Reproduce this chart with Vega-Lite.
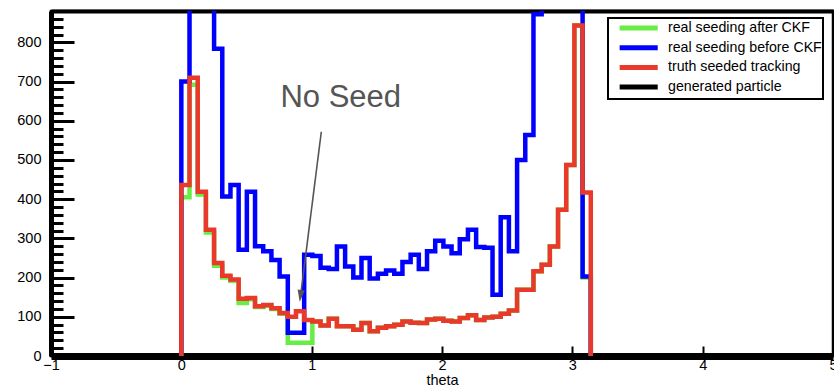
{
  "$schema": "https://vega.github.io/schema/vega-lite/v6.json",
  "width": 782,
  "height": 345,
  "autosize": {"type": "none"},
  "padding": {"left": 51, "top": 11, "right": 1, "bottom": 35},
  "background": "white",
  "config": {
    "font": "Liberation Sans",
    "view": {"stroke": "black", "strokeWidth": 2.5},
    "axis": {
      "grid": false,
      "labelFont": "Liberation Sans",
      "labelFontSize": 14.5,
      "labelColor": "black",
      "titleFont": "Liberation Sans",
      "titleFontSize": 14.5,
      "titleFontWeight": "normal",
      "titleColor": "black",
      "domainColor": "black",
      "tickColor": "black"
    }
  },
  "datasets": {
    "hist": [
      {"k": 0, "theta": 0, "after": 0, "before": 0, "truth": 0},
      {"k": 1, "theta": 0, "after": 405, "before": 700, "truth": 436},
      {"k": 2, "theta": 0.0628, "after": 692, "before": 1200, "truth": 710},
      {"k": 3, "theta": 0.1257, "after": 412, "before": 1400, "truth": 419},
      {"k": 4, "theta": 0.1885, "after": 315, "before": 1100, "truth": 322},
      {"k": 5, "theta": 0.2513, "after": 230, "before": 784, "truth": 237},
      {"k": 6, "theta": 0.3142, "after": 200, "before": 407, "truth": 205},
      {"k": 7, "theta": 0.3770, "after": 192, "before": 436, "truth": 195},
      {"k": 8, "theta": 0.4398, "after": 135, "before": 271, "truth": 146},
      {"k": 9, "theta": 0.5027, "after": 145, "before": 419, "truth": 148},
      {"k": 10, "theta": 0.5655, "after": 125, "before": 280, "truth": 127},
      {"k": 11, "theta": 0.6283, "after": 128, "before": 267, "truth": 130},
      {"k": 12, "theta": 0.6912, "after": 120, "before": 245, "truth": 122},
      {"k": 13, "theta": 0.7540, "after": 108, "before": 203, "truth": 110},
      {"k": 14, "theta": 0.8168, "after": 34, "before": 59, "truth": 100},
      {"k": 15, "theta": 0.8796, "after": 34, "before": 59, "truth": 114},
      {"k": 16, "theta": 0.9425, "after": 34, "before": 258, "truth": 92},
      {"k": 17, "theta": 1.0053, "after": 88, "before": 255, "truth": 88},
      {"k": 18, "theta": 1.0681, "after": 78, "before": 225, "truth": 78},
      {"k": 19, "theta": 1.1310, "after": 95, "before": 222, "truth": 95},
      {"k": 20, "theta": 1.1938, "after": 76, "before": 279, "truth": 76},
      {"k": 21, "theta": 1.2566, "after": 76, "before": 228, "truth": 76},
      {"k": 22, "theta": 1.3195, "after": 67, "before": 200, "truth": 67},
      {"k": 23, "theta": 1.3823, "after": 84, "before": 250, "truth": 84},
      {"k": 24, "theta": 1.4451, "after": 63, "before": 198, "truth": 63},
      {"k": 25, "theta": 1.5080, "after": 72, "before": 210, "truth": 72},
      {"k": 26, "theta": 1.5708, "after": 76, "before": 218, "truth": 76},
      {"k": 27, "theta": 1.6336, "after": 80, "before": 210, "truth": 80},
      {"k": 28, "theta": 1.6965, "after": 88, "before": 240, "truth": 88},
      {"k": 29, "theta": 1.7593, "after": 85, "before": 258, "truth": 85},
      {"k": 30, "theta": 1.8221, "after": 84, "before": 222, "truth": 84},
      {"k": 31, "theta": 1.8850, "after": 93, "before": 267, "truth": 93},
      {"k": 32, "theta": 1.9478, "after": 95, "before": 294, "truth": 95},
      {"k": 33, "theta": 2.0106, "after": 90, "before": 279, "truth": 90},
      {"k": 34, "theta": 2.0735, "after": 88, "before": 262, "truth": 88},
      {"k": 35, "theta": 2.1363, "after": 97, "before": 298, "truth": 97},
      {"k": 36, "theta": 2.1991, "after": 104, "before": 322, "truth": 104},
      {"k": 37, "theta": 2.2619, "after": 92, "before": 278, "truth": 92},
      {"k": 38, "theta": 2.3248, "after": 98, "before": 276, "truth": 98},
      {"k": 39, "theta": 2.3876, "after": 100, "before": 156, "truth": 100},
      {"k": 40, "theta": 2.4504, "after": 108, "before": 354, "truth": 108},
      {"k": 41, "theta": 2.5133, "after": 116, "before": 267, "truth": 116},
      {"k": 42, "theta": 2.5761, "after": 169, "before": 500, "truth": 169},
      {"k": 43, "theta": 2.6389, "after": 169, "before": 564, "truth": 169},
      {"k": 44, "theta": 2.7018, "after": 216, "before": 872, "truth": 216},
      {"k": 45, "theta": 2.7646, "after": 233, "before": 1100, "truth": 233},
      {"k": 46, "theta": 2.8274, "after": 279, "before": 1300, "truth": 279},
      {"k": 47, "theta": 2.8903, "after": 373, "before": 1400, "truth": 373},
      {"k": 48, "theta": 2.9531, "after": 487, "before": 1500, "truth": 487},
      {"k": 49, "theta": 3.0159, "after": 843, "before": 1200, "truth": 843},
      {"k": 50, "theta": 3.0788, "after": 200, "before": 203, "truth": 417},
      {"k": 51, "theta": 3.1416, "after": 0, "before": 0, "truth": 0}
    ],
    "note": [
      {"theta": 1.223, "n": 635, "label": "No Seed"}
    ],
    "arrow": [
      {"theta": 1.074, "n": 572, "theta2": 0.918, "n2": 162, "tipTheta": 0.914, "tipN": 153}
    ]
  },
  "layer": [
    {
      "data": {"name": "hist"},
      "mark": {"type": "line", "interpolate": "step-after", "strokeWidth": 4.5, "clip": true, "strokeJoin": "miter"},
      "encoding": {
        "x": {
          "field": "theta", "type": "quantitative",
          "scale": {"domain": [-1, 5], "nice": false, "zero": false},
          "axis": {
            "orient": "bottom", "values": [-1, 0, 1, 2, 3, 4, 5], "format": "d",
            "tickSize": -10, "tickWidth": 2, "domainWidth": 7,
            "labelPadding": 12, "labelFlush": false, "labelOverlap": false, "labelBound": false,
            "title": "theta", "titlePadding": 2
          }
        },
        "y": {
          "field": "after", "type": "quantitative",
          "scale": {"domain": [0, 880], "nice": false},
          "axis": {
            "orient": "left", "values": [0, 100, 200, 300, 400, 500, 600, 700, 800],
            "tickSize": -23, "tickWidth": 3, "domainWidth": 5,
            "labelPadding": 33, "title": null
          }
        },
        "order": {"field": "k", "type": "quantitative"},
        "color": {
          "datum": "real seeding after CKF",
          "scale": {
            "domain": ["real seeding after CKF", "real seeding before CKF", "truth seeded tracking", "generated particle"],
            "range": ["#66ee44", "#0000ff", "#e8392b", "#000000"]
          },
          "legend": {
            "orient": "none", "legendX": 557, "legendY": 7, "title": null,
            "symbolType": "M-1,0H5", "symbolSize": 161, "symbolStrokeWidth": 5,
            "symbolFillColor": "transparent", "symbolOffset": 8,
            "labelFont": "Liberation Sans", "labelFontSize": 14.2, "labelColor": "black",
            "labelOffset": 33, "labelLimit": 400, "rowPadding": -0.3, "padding": 1,
            "strokeColor": "black", "fillColor": "white",
            "encode": {"legend": {"update": {"strokeWidth": {"value": 2}}}}
          }
        }
      }
    },
    {
      "data": {"name": "hist"},
      "mark": {"type": "line", "interpolate": "step-after", "strokeWidth": 4.5, "clip": true, "strokeJoin": "miter"},
      "encoding": {
        "x": {
          "field": "theta", "type": "quantitative",
          "axis": {"orient": "top", "domainWidth": 4, "ticks": false, "labels": false, "title": null}
        },
        "y": {
          "field": "before", "type": "quantitative",
          "axis": {
            "orient": "left",
            "values": [20, 40, 60, 80, 120, 140, 160, 180, 220, 240, 260, 280, 320, 340, 360, 380, 420, 440, 460, 480, 520, 540, 560, 580, 620, 640, 660, 680, 720, 740, 760, 780, 820, 840, 860],
            "tickSize": -12, "tickWidth": 3, "labels": false, "domain": false, "title": null
          }
        },
        "order": {"field": "k", "type": "quantitative"},
        "color": {"datum": "real seeding before CKF"}
      }
    },
    {
      "data": {"name": "hist"},
      "mark": {"type": "line", "interpolate": "step-after", "strokeWidth": 4.5, "clip": true, "strokeJoin": "miter"},
      "encoding": {
        "x": {"field": "theta", "type": "quantitative", "axis": null},
        "y": {"field": "truth", "type": "quantitative", "axis": null},
        "order": {"field": "k", "type": "quantitative"},
        "color": {"datum": "truth seeded tracking"}
      }
    },
    {
      "data": {"name": "arrow"},
      "mark": {"type": "rule", "color": "#555555", "strokeWidth": 1.6},
      "encoding": {
        "x": {"field": "theta", "type": "quantitative", "axis": null},
        "y": {"field": "n", "type": "quantitative", "axis": null},
        "x2": {"field": "theta2"},
        "y2": {"field": "n2"}
      }
    },
    {
      "data": {"name": "arrow"},
      "mark": {"type": "point", "shape": "M-0.6,-1L0.6,-1L0,1Z", "size": 144, "filled": true, "color": "#555555", "opacity": 1, "angle": 7},
      "encoding": {
        "x": {"field": "tipTheta", "type": "quantitative", "axis": null},
        "y": {"field": "tipN", "type": "quantitative", "axis": null}
      }
    },
    {
      "data": {"name": "note"},
      "mark": {"type": "text", "font": "Liberation Sans", "fontSize": 31, "color": "#555555", "align": "center", "baseline": "alphabetic"},
      "encoding": {
        "x": {"field": "theta", "type": "quantitative", "axis": null},
        "y": {"field": "n", "type": "quantitative", "axis": null},
        "text": {"field": "label"}
      }
    }
  ],
  "resolve": {"axis": {"x": "independent", "y": "independent"}}
}
